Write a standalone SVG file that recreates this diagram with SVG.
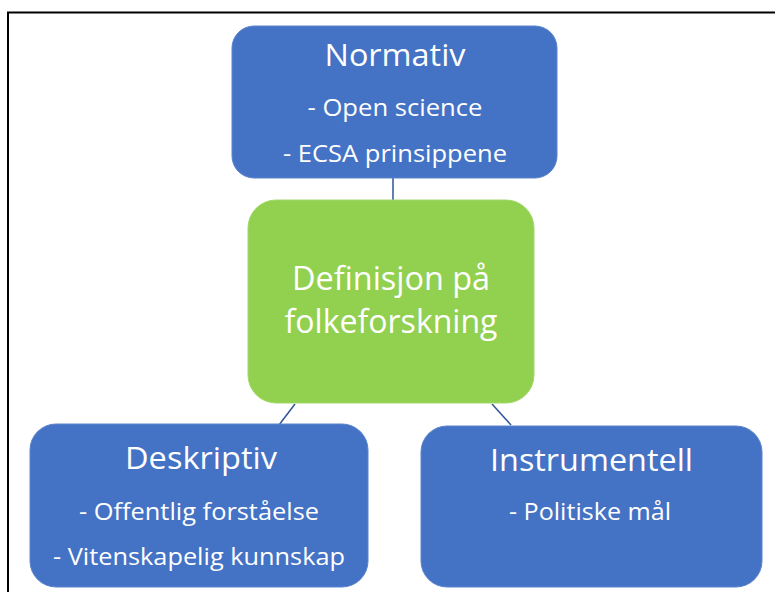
<svg xmlns="http://www.w3.org/2000/svg" width="775" height="592" viewBox="0 0 775 592">
<style>
.blue{fill:#4472C4;stroke:#5B84CC;stroke-width:1}
.green{fill:#92D050;stroke:#A3D86A;stroke-width:1}
.t{font-family:"Open Sans","Noto Sans","Liberation Sans",sans-serif;fill:#FFFFFF;text-anchor:middle}
.h{font-size:31px}
.s{font-size:24px}
.g{font-size:32px}
.c{stroke:#2F5597;stroke-width:1.5;fill:none}
</style>
<rect x="0" y="0" width="775" height="592" fill="#FFFFFF"/>
<path d="M8,592 V12.5 H775" fill="none" stroke="#000000" stroke-width="2"/>
<g id="connectors">
<line class="c" x1="393" y1="178" x2="393" y2="200"/>
<line class="c" x1="295" y1="404" x2="279" y2="425"/>
<line class="c" x1="492" y1="404" x2="511" y2="425"/>
</g>
<g id="normativ">
<rect class="blue" x="232" y="26" width="325" height="152" rx="22"/>
<text class="t h" x="395" y="66" textLength="141" lengthAdjust="spacingAndGlyphs">Normativ</text>
<text class="t s" x="395" y="116" textLength="175" lengthAdjust="spacingAndGlyphs">- Open science</text>
<text class="t s" x="395" y="162" textLength="224" lengthAdjust="spacingAndGlyphs">- ECSA prinsippene</text>
</g>
<g id="definisjon">
<rect class="green" x="248" y="200" width="286" height="203" rx="28"/>
<text class="t g" x="391" y="290" textLength="198" lengthAdjust="spacingAndGlyphs">Definisjon på</text>
<text class="t g" x="391" y="333" textLength="213" lengthAdjust="spacingAndGlyphs">folkeforskning</text>
</g>
<g id="deskriptiv">
<rect class="blue" x="30" y="424" width="338" height="163" rx="26"/>
<text class="t h" x="201" y="469" textLength="152" lengthAdjust="spacingAndGlyphs">Deskriptiv</text>
<text class="t s" x="199" y="520" textLength="240" lengthAdjust="spacingAndGlyphs">- Offentlig forståelse</text>
<text class="t s" x="199" y="565" textLength="292" lengthAdjust="spacingAndGlyphs">- Vitenskapelig kunnskap</text>
</g>
<g id="instrumentell">
<rect class="blue" x="421" y="426" width="341" height="161" rx="26"/>
<text class="t h" x="591.5" y="471" textLength="203" lengthAdjust="spacingAndGlyphs">Instrumentell</text>
<text class="t s" x="590" y="520" textLength="162" lengthAdjust="spacingAndGlyphs">- Politiske mål</text>
</g>
</svg>
